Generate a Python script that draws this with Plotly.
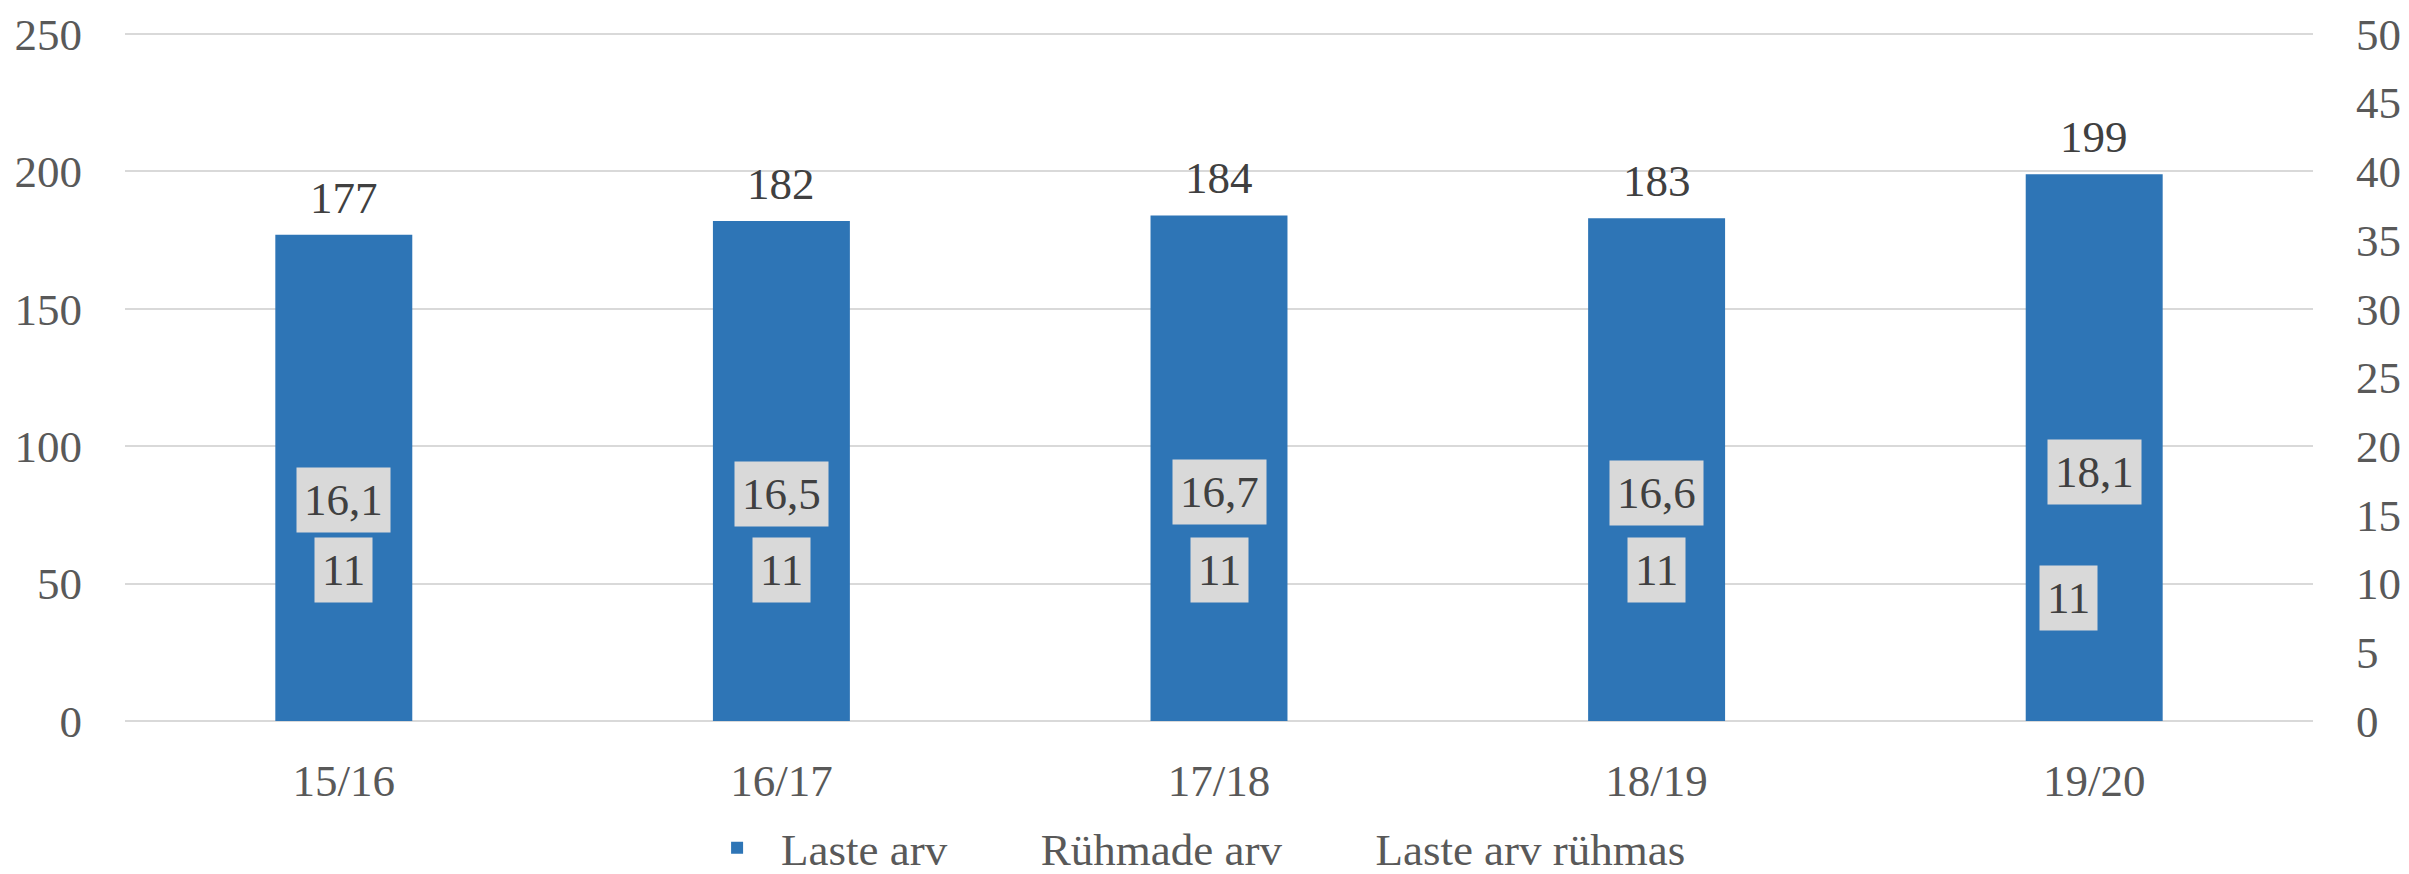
import plotly.graph_objects as go

categories = ["15/16", "16/17", "17/18", "18/19", "19/20"]
laste_arv = [177, 182, 184, 183, 199]
ruhmade_arv = [11, 11, 11, 11, 11]
laste_arv_ruhmas = [16.1, 16.5, 16.7, 16.6, 18.1]
left_ticks = [0, 50, 100, 150, 200, 250]
right_ticks = [0, 5, 10, 15, 20, 25, 30, 35, 40, 45, 50]

FONT = "Liberation Serif"
FS = 45
TICK_COLOR = "#595959"
LABEL_COLOR = "#404040"
BAR_COLOR = "#2E75B6"
BOX_COLOR = "#D9D9D9"
EDGE = 1.0015

def fmt(v):
    s = ("%g" % v)
    return s.replace(".", ",")

fig = go.Figure()
fig.add_trace(go.Bar(
    x=categories, y=laste_arv, name="Laste arv",
    marker=dict(color=BAR_COLOR, line=dict(width=0)),
    yaxis="y",
))
fig.add_trace(go.Scatter(
    x=categories, y=ruhmade_arv, name="Rühmade arv",
    mode="lines", line=dict(color="rgba(0,0,0,0)", width=0),
    yaxis="y2",
))
fig.add_trace(go.Scatter(
    x=categories, y=laste_arv_ruhmas, name="Laste arv rühmas",
    mode="lines", line=dict(color="rgba(0,0,0,0)", width=0),
    yaxis="y2",
))

annotations = []
for c, v in zip(categories, laste_arv):
    annotations.append(dict(
        x=c, y=v, xref="x", yref="y", text=str(v), showarrow=False,
        yanchor="bottom", yshift=10,
        font=dict(family=FONT, size=FS, color=LABEL_COLOR),
    ))
for i, (c, v) in enumerate(zip(categories, laste_arv_ruhmas)):
    annotations.append(dict(
        x=c, y=v, xref="x", yref="y2", text=fmt(v), showarrow=False,
        bgcolor=BOX_COLOR, borderpad=7,
        font=dict(family=FONT, size=FS, color=LABEL_COLOR),
    ))
for i, (c, v) in enumerate(zip(categories, ruhmade_arv)):
    shift_x, shift_y = (0, 0)
    if i == len(categories) - 1:
        shift_x, shift_y = (-26, -28)
    annotations.append(dict(
        x=c, y=v, xref="x", yref="y2", text=fmt(v), showarrow=False,
        bgcolor=BOX_COLOR, borderpad=7, xshift=shift_x, yshift=shift_y,
        font=dict(family=FONT, size=FS, color=LABEL_COLOR),
    ))

fig.update_layout(
    width=2409, height=874,
    margin=dict(l=125, r=96, t=33, b=153, autoexpand=False),
    paper_bgcolor="white", plot_bgcolor="white",
    font=dict(family=FONT, size=FS, color=TICK_COLOR),
    bargap=0.687,
    showlegend=True,
    legend=dict(
        orientation="h", x=0.4877, xanchor="center", y=-0.1846, yanchor="middle",
        font=dict(family=FONT, size=FS, color=TICK_COLOR),
        itemwidth=78, traceorder="normal",
    ),
    xaxis=dict(
        showgrid=False, showline=False, ticks="", ticklabelstandoff=29,
        tickfont=dict(family=FONT, size=FS, color=TICK_COLOR),
    ),
    yaxis=dict(
        range=[0, 250 * EDGE], tickvals=left_ticks, showgrid=True,
        gridcolor="#D9D9D9", gridwidth=2, zeroline=True,
        zerolinecolor="#D9D9D9", zerolinewidth=2, showline=False,
        ticks="", ticklabelstandoff=42,
        tickfont=dict(family=FONT, size=FS, color=TICK_COLOR),
    ),
    yaxis2=dict(
        range=[0, 50 * EDGE], tickvals=right_ticks, overlaying="y", side="right",
        showgrid=False, zeroline=False, showline=False, ticks="",
        ticklabelstandoff=42,
        tickfont=dict(family=FONT, size=FS, color=TICK_COLOR),
    ),
    annotations=annotations,
)

fig.write_html("out.html", config={"displayModeBar": False},
               post_script="document.body.style.margin='0';")
